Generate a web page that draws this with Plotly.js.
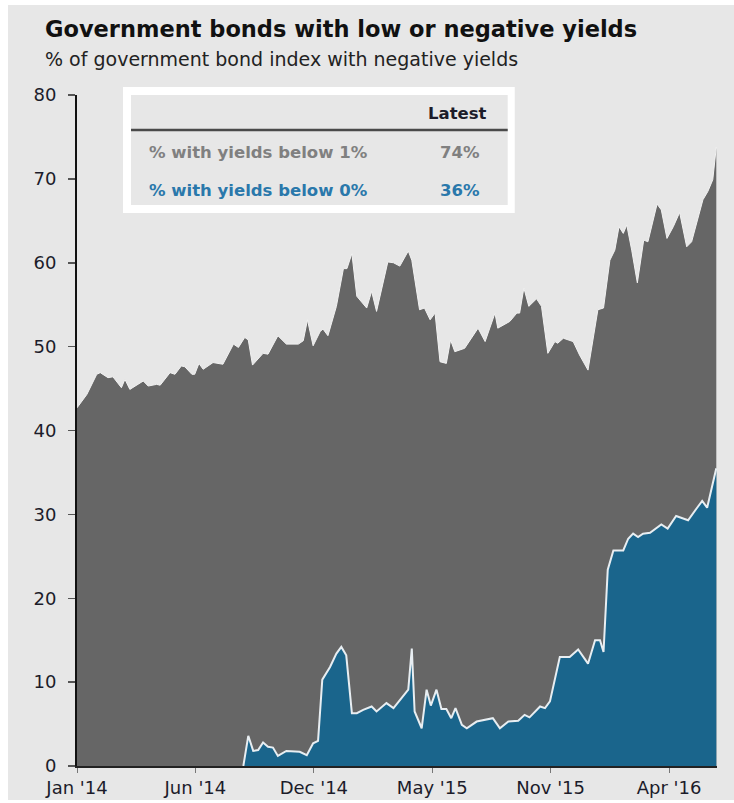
<!DOCTYPE html>
<html>
<head>
<meta charset="utf-8">
<script src="https://cdn.plot.ly/plotly-3.0.1.min.js"></script>
<style>
  html, body { margin: 0; padding: 0; background: #ffffff; }
  #chart { position: absolute; left: 8px; top: 5px; width: 726px; height: 795px; }
</style>
</head>
<body>
<div id="chart"></div>
<script>
// ---- Data ----
const datesBelow1 = [
  '2014-01-03','2014-01-17','2014-01-31','2014-02-05','2014-02-16','2014-02-23','2014-03-07','2014-03-12',
  '2014-03-19','2014-04-07','2014-04-14','2014-04-26','2014-05-01','2014-05-15','2014-05-22','2014-05-31',
  '2014-06-05','2014-06-15','2014-06-19','2014-06-25','2014-07-01','2014-07-15','2014-07-29','2014-08-13',
  '2014-08-20','2014-08-29','2014-09-03','2014-09-09','2014-09-24','2014-10-01','2014-10-15','2014-10-27',
  '2014-11-13','2014-11-20','2014-11-26','2014-12-04','2014-12-14','2014-12-18','2014-12-25','2015-01-06',
  '2015-01-16','2015-01-21','2015-01-28','2015-02-04','2015-02-18','2015-02-25','2015-03-04','2015-03-20',
  '2015-03-28','2015-04-06','2015-04-18','2015-04-23','2015-05-04','2015-05-11','2015-05-19','2015-05-26',
  '2015-06-02','2015-06-11','2015-06-17','2015-06-23','2015-07-07','2015-07-26','2015-08-05','2015-08-19',
  '2015-08-23','2015-09-09','2015-09-19','2015-09-23','2015-09-29','2015-10-06','2015-10-17','2015-10-24',
  '2015-11-02','2015-11-12','2015-11-16','2015-11-24','2015-12-08','2015-12-17','2015-12-29','2016-01-12',
  '2016-01-20','2016-01-29','2016-02-05','2016-02-11','2016-02-17','2016-02-22','2016-02-29','2016-03-08',
  '2016-03-17','2016-03-23','2016-04-05','2016-04-11','2016-04-19','2016-04-28','2016-05-07','2016-05-17',
  '2016-05-24','2016-06-09','2016-06-16','2016-06-23','2016-06-28'
];
const below1 = [
  42.7, 44.3, 46.7, 46.9, 46.3, 46.4, 45.1, 46.1,
  44.9, 45.9, 45.3, 45.5, 45.4, 46.9, 46.7, 47.7,
  47.6, 46.7, 46.7, 48.0, 47.3, 48.1, 47.9, 50.3,
  49.9, 51.1, 50.8, 47.8, 49.2, 49.1, 51.3, 50.3,
  50.3, 50.7, 53.2, 50.1, 51.8, 52.1, 51.3, 54.8,
  59.3, 59.3, 61.1, 56.0, 54.6, 56.6, 54.2, 60.1,
  60.0, 59.6, 61.4, 60.3, 54.4, 54.6, 53.2, 54.0,
  48.2, 48.0, 50.8, 49.4, 49.8, 52.2, 50.6, 54.0,
  52.2, 53.0, 54.0, 54.0, 57.0, 54.8, 55.7, 54.8,
  49.2, 50.6, 50.4, 51.0, 50.6, 49.0, 47.2, 54.4,
  54.6, 60.3, 61.5, 64.3, 63.5, 64.5, 61.5, 57.6,
  62.7, 62.5, 67.0, 66.3, 62.9, 64.3, 66.0, 61.9,
  62.5, 67.5, 68.5, 69.9, 73.8
];

const datesBelow0 = [
  '2014-08-27','2014-09-03','2014-09-10','2014-09-17','2014-09-24','2014-10-01','2014-10-08','2014-10-15',
  '2014-10-27','2014-11-15','2014-11-25','2014-12-04','2014-12-11','2014-12-17','2014-12-28','2015-01-06',
  '2015-01-13','2015-01-20','2015-01-28','2015-02-04','2015-02-13','2015-02-25','2015-03-04','2015-03-18',
  '2015-03-28','2015-04-11','2015-04-18','2015-04-23','2015-04-27','2015-05-07','2015-05-14','2015-05-20',
  '2015-05-28','2015-06-04','2015-06-11','2015-06-18','2015-06-24','2015-07-03','2015-07-10','2015-07-24',
  '2015-08-12','2015-08-16','2015-08-26','2015-09-07','2015-09-21','2015-09-30','2015-10-07','2015-10-22',
  '2015-10-29','2015-11-05','2015-11-19','2015-12-03','2015-12-15','2015-12-29','2016-01-08','2016-01-15',
  '2016-01-20','2016-01-26','2016-02-03','2016-02-17','2016-02-24','2016-03-02','2016-03-09','2016-03-16',
  '2016-03-26','2016-04-11','2016-04-20','2016-05-02','2016-05-09','2016-05-19','2016-05-31','2016-06-08',
  '2016-06-15','2016-06-23','2016-06-28'
];
const below0 = [
  0.0, 3.6, 1.8, 1.9, 2.8, 2.3, 2.2, 1.2,
  1.8, 1.7, 1.3, 2.7, 3.0, 10.3, 11.8, 13.4,
  14.2, 13.2, 6.3, 6.3, 6.7, 7.1, 6.5, 7.5,
  6.9, 8.3, 9.1, 14.0, 6.5, 4.5, 9.1, 7.2,
  9.1, 6.8, 6.8, 5.7, 6.9, 4.9, 4.5, 5.3,
  5.6, 5.7, 4.5, 5.3, 5.4, 6.1, 5.8, 7.1,
  6.9, 7.7, 13.0, 13.0, 13.9, 12.2, 15.0, 15.0,
  13.6, 23.4, 25.7, 25.7, 27.1, 27.7, 27.3, 27.7,
  27.8, 28.8, 28.3, 29.8, 29.6, 29.3, 30.7, 31.6,
  30.8, 33.7, 35.5
];

const tickDates  = ['2014-01-03','2014-06-20','2014-12-05','2015-05-22','2015-11-06','2016-04-22'];
const tickLabels = ["Jan '14","Jun '14","Dec '14","May '15","Nov '15","Apr '16"];
const yTicks = [0, 10, 20, 30, 40, 50, 60, 70, 80];

const tableHeader = 'Latest';
const rowLabels = ['% with yields below 1%', '% with yields below 0%'];
const rowLatest = ['74%', '36%'];

// ---- Style ----
const BG = '#e7e7e7';
const GREY = '#666666';
const BLUE = '#1a658c';
const FONT = 'DejaVu Sans, Arial, sans-serif';

const traces = [
  {
    x: datesBelow1, y: below1, type: 'scatter', mode: 'lines',
    fill: 'tozeroy', fillcolor: GREY,
    line: { color: '#f2f2f2', width: 1 },
    hoverinfo: 'skip', showlegend: false
  },
  {
    x: datesBelow0, y: below0, type: 'scatter', mode: 'lines',
    fill: 'tozeroy', fillcolor: BLUE,
    line: { color: '#e8eef2', width: 2 },
    hoverinfo: 'skip', showlegend: false
  }
];

const rowY = [0.915, 0.857];
const rowColors = ['#808080', '#2a78ab'];

const annotations = [
  { text: '<b>Government bonds with low or negative yields</b>', xref: 'paper', yref: 'paper',
    x: -0.053, y: 1.098, xanchor: 'left', yanchor: 'middle', showarrow: false,
    font: { family: FONT, size: 22.5, color: '#111111' } },
  { text: '% of government bond index with negative yields', xref: 'paper', yref: 'paper',
    x: -0.053, y: 1.0537, xanchor: 'left', yanchor: 'middle', showarrow: false,
    font: { family: FONT, size: 19, color: '#222222' } },
  { text: '<b>' + tableHeader + '</b>', xref: 'paper', yref: 'paper',
    x: 0.594, y: 0.973, xanchor: 'center', yanchor: 'middle', showarrow: false,
    font: { family: FONT, size: 16.5, color: '#1c1c2a' } }
];
rowLabels.forEach((lab, i) => {
  annotations.push({ text: '<b>' + lab + '</b>', xref: 'paper', yref: 'paper',
    x: 0.109, y: rowY[i], xanchor: 'left', yanchor: 'middle', showarrow: false,
    font: { family: FONT, size: 16.5, color: rowColors[i] } });
  annotations.push({ text: '<b>' + rowLatest[i] + '</b>', xref: 'paper', yref: 'paper',
    x: 0.598, y: rowY[i], xanchor: 'center', yanchor: 'middle', showarrow: false,
    font: { family: FONT, size: 16.5, color: rowColors[i] } });
});

const shapes = [
  { type: 'rect', xref: 'paper', yref: 'paper', x0: 0.0719, x1: 0.684, y0: 0.824, y1: 1.0119,
    fillcolor: '#ffffff', line: { width: 0 }, layer: 'above' },
  { type: 'rect', xref: 'paper', yref: 'paper', x0: 0.0844, x1: 0.673, y0: 0.836, y1: 1.0,
    fillcolor: BG, line: { width: 0 }, layer: 'above' },
  { type: 'line', xref: 'paper', yref: 'paper', x0: 0.0844, x1: 0.673, y0: 0.948, y1: 0.948,
    line: { color: '#4a4a4a', width: 2.5 }, layer: 'above' }
];

const layout = {
  width: 726, height: 795,
  margin: { l: 69, r: 17, t: 90, b: 34, pad: 0 },
  paper_bgcolor: BG, plot_bgcolor: BG,
  showlegend: false,
  xaxis: {
    type: 'date', range: ['2014-01-03', '2016-06-29'],
    tickmode: 'array', tickvals: tickDates, ticktext: tickLabels,
    showgrid: false, zeroline: false,
    showline: true, linecolor: '#222222', linewidth: 1.5,
    ticks: 'outside', ticklen: 5, tickcolor: '#777777', tickwidth: 1,
    tickfont: { family: FONT, size: 18, color: '#1c1c2a' },
    fixedrange: true
  },
  yaxis: {
    range: [0, 80], tickmode: 'array', tickvals: yTicks,
    showgrid: false, zeroline: false,
    showline: true, linecolor: '#111111', linewidth: 2,
    ticks: 'outside', ticklen: 7, tickcolor: '#555555', tickwidth: 1.5,
    ticklabelstandoff: 8,
    tickfont: { family: FONT, size: 18, color: '#1c1c2a' },
    fixedrange: true
  },
  annotations: annotations,
  shapes: shapes
};

Plotly.newPlot('chart', traces, layout, { displayModeBar: false, staticPlot: true });
</script>
</body>
</html>
